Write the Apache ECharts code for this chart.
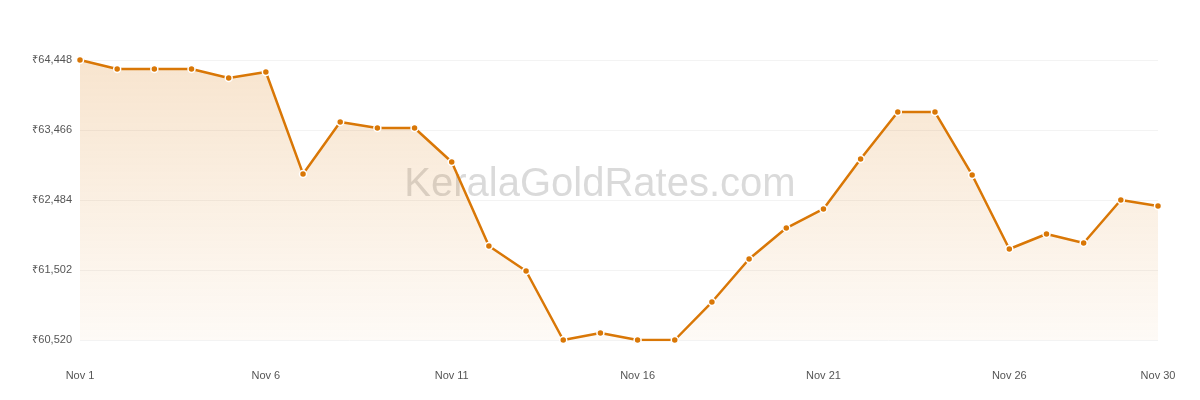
<!DOCTYPE html>
<html><head><meta charset="utf-8">
<script src="https://cdn.jsdelivr.net/npm/echarts@6/dist/echarts.min.js"></script>
<style>html,body{margin:0;padding:0;background:#fff}#main{width:1200px;height:400px}</style>
</head><body><div id="main"></div>
<script>
var days = [];
for (var d = 1; d <= 30; d++) days.push('Nov ' + d);
var prices = [64448, 64322, 64322, 64322, 64195, 64280, 62850, 63578, 63494, 63494,
  63017, 61838, 61488, 60520, 60618, 60520, 60520, 61053, 61656, 62091,
  62358, 63059, 63718, 63718, 62835, 61797, 62007, 61881, 62484, 62400];
var yMin = 60520, yMax = 64448, yStep = 982;

var myChart = echarts.init(document.getElementById('main'));
var option = {
  graphic: [{
    type: 'text', left: 'center', top: 165,
    style: { text: 'KeralaGoldRates.com', fill: 'rgba(150,150,150,0.35)', font: '40px "Liberation Sans", Arial, sans-serif' }
  }],
  grid: { left: 80, right: 42, top: 60, bottom: 60 },
  xAxis: {
    type: 'category', data: days, boundaryGap: false,
    axisLine: { show: false }, axisTick: { show: false },
    axisLabel: { interval: 4, color: '#555', fontSize: 11, margin: 30,
      fontFamily: 'Liberation Sans, Arial, sans-serif', showMaxLabel: true }
  },
  yAxis: {
    type: 'value', min: yMin, max: yMax, interval: yStep,
    axisLine: { show: false }, axisTick: { show: false },
    splitLine: { lineStyle: { color: '#f3f3f3' } },
    axisLabel: { color: '#555', fontSize: 11, fontFamily: 'Liberation Sans, Arial, sans-serif',
      formatter: function (v) { return '₹' + v.toLocaleString('en-US'); } }
  },
  series: [{
    type: 'line', data: prices, symbol: 'circle', symbolSize: 7,
    lineStyle: { color: '#d97706', width: 2.5 },
    itemStyle: { color: '#d97706', borderColor: '#fff', borderWidth: 1.5 },
    areaStyle: { color: new echarts.graphic.LinearGradient(0, 0, 0, 1, [
      { offset: 0, color: 'rgba(217,119,6,0.28)' },
      { offset: 1, color: 'rgba(217,119,6,0.05)' }]) }
  }]
};
myChart.setOption(option);
</script></body></html>
